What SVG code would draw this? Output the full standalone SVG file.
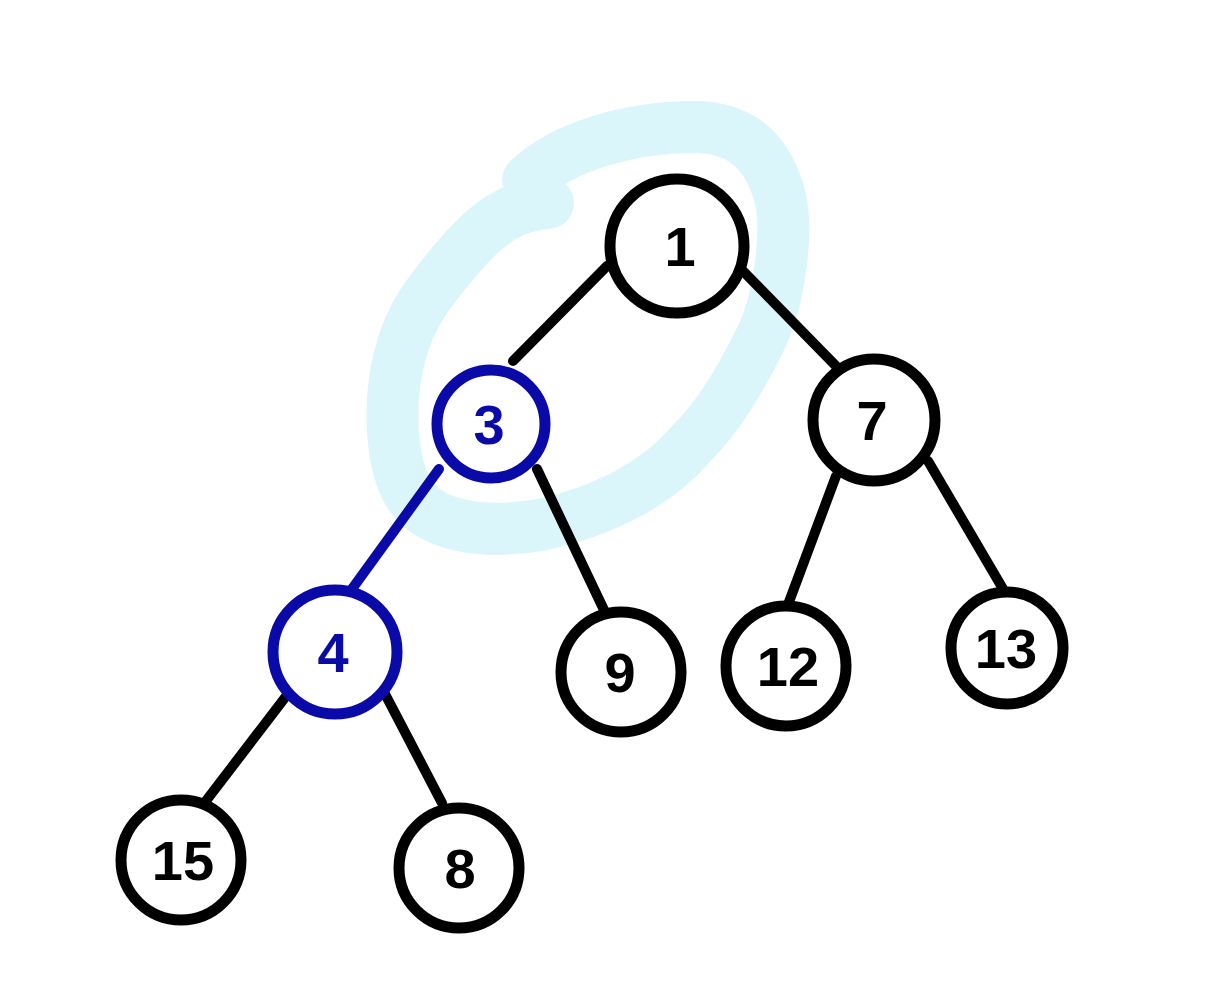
<svg xmlns="http://www.w3.org/2000/svg" width="1207" height="1000" viewBox="0 0 1207 1000">
<style>
.n{fill:#fff;stroke:#000;stroke-width:11}
.b{stroke:#0a0aa8}
.e{stroke:#000;stroke-width:10;stroke-linecap:round}
.eb{stroke:#0a0aa8}
.t{font-family:"Liberation Sans",Arial,sans-serif;font-weight:bold;font-size:56px;text-anchor:middle;fill:#000}
.tb{fill:#0a0aa8}
</style>
<rect width="1207" height="1000" fill="#fff"/>
<path d="M528,180 C565,145 630,128 690,127 C740,126 765,150 778,190 C790,225 780,300 760,340 C740,380 720,415 690,445 C660,480 610,510 540,525 C480,535 430,525 410,495 C390,465 388,400 400,355 C410,315 430,290 460,255 C490,220 515,205 548,203" fill="none" stroke="#dbf6fb" stroke-width="52" stroke-linecap="round" stroke-linejoin="round"/>
<g id="connectors">
<line class="e" x1="607" y1="266" x2="513" y2="361"/>
<line class="e" x1="742" y1="270" x2="836" y2="366"/>
<line class="e eb" x1="439" y1="469" x2="352" y2="589"/>
<line class="e" x1="537" y1="469" x2="604" y2="610"/>
<line class="e" x1="836" y1="476" x2="783" y2="618"/>
<line class="e" x1="928" y1="461" x2="1006" y2="594"/>
<line class="e" x1="287" y1="695" x2="199" y2="810"/>
<line class="e" x1="384" y1="692" x2="442" y2="803"/>
</g>
<g id="n1"><circle class="n" cx="677" cy="246" r="67"/><text class="t" x="680" y="266">1</text></g>
<g id="n3"><circle class="n b" cx="491" cy="424" r="54"/><text class="t tb" x="489" y="444">3</text></g>
<g id="n7"><circle class="n" cx="874" cy="420" r="61"/><text class="t" x="872" y="440">7</text></g>
<g id="n4"><circle class="n b" cx="335" cy="652" r="62"/><text class="t tb" x="333" y="672">4</text></g>
<g id="n9"><circle class="n" cx="621" cy="672" r="60"/><text class="t" x="620" y="692">9</text></g>
<g id="n12"><circle class="n" cx="786" cy="666" r="60"/><text class="t" x="788" y="686">12</text></g>
<g id="n13"><circle class="n" cx="1007" cy="648" r="56"/><text class="t" x="1006" y="668">13</text></g>
<g id="n15"><circle class="n" cx="181" cy="860" r="60"/><text class="t" x="183" y="880">15</text></g>
<g id="n8"><circle class="n" cx="459" cy="868" r="60"/><text class="t" x="460" y="888">8</text></g>
</svg>
